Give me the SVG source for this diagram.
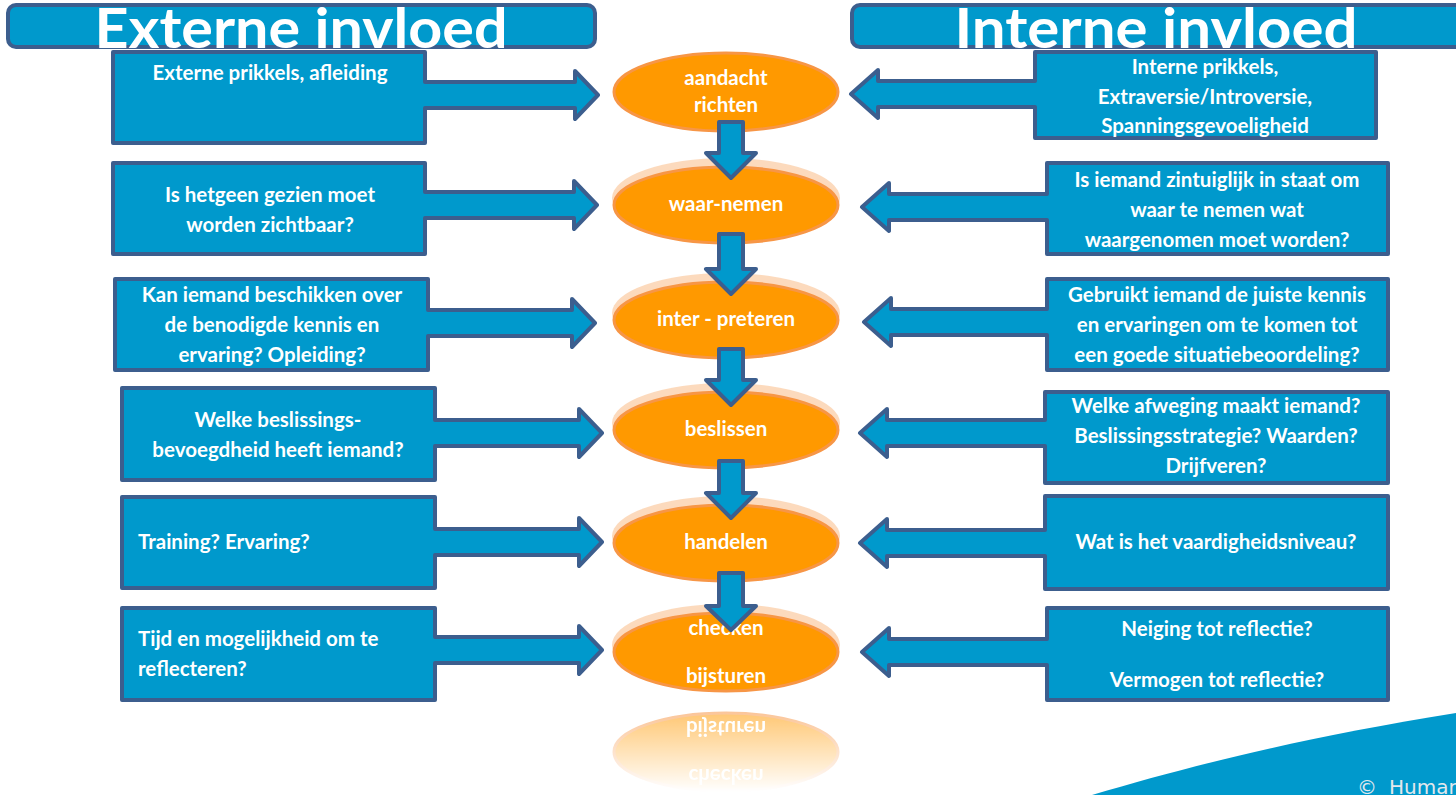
<svg xmlns="http://www.w3.org/2000/svg" width="1456" height="795" viewBox="0 0 1456 795">
<style>
.box{fill:#0099cc;stroke:#3c5e8e;stroke-width:4;stroke-linejoin:round}
.hdr{fill:#0099cc;stroke:#3c5e8e;stroke-width:4}
.ell{fill:#ff9900;stroke:#f79646;stroke-width:3}
.glow{fill:#fbd1ac;opacity:0.8}
.t{font-family:Lato,"Open Sans","Liberation Sans",sans-serif;font-weight:700;font-size:20.5px;fill:#ffffff}
.c{text-anchor:middle}
.hd{font-size:56px}
.arr{fill:#0099cc;stroke:#3c5e8e;stroke-width:4;stroke-linejoin:round}
</style>
<defs>
<linearGradient id="fg" gradientUnits="userSpaceOnUse" x1="0" y1="712" x2="0" y2="792">
<stop offset="0" stop-color="#ffffff" stop-opacity="0.55"/>
<stop offset="1" stop-color="#ffffff" stop-opacity="0"/>
</linearGradient>
<mask id="fade" maskUnits="userSpaceOnUse" x="590" y="700" width="280" height="95">
<rect x="590" y="700" width="280" height="95" fill="url(#fg)"/>
</mask>
</defs>
<rect width="1456" height="795" fill="#ffffff"/>

<g id="header-extern">
<rect class="hdr" x="8" y="5" width="587" height="42" rx="8"/>
<text class="t c hd" x="301" y="48" textLength="413" lengthAdjust="spacingAndGlyphs">Externe invloed</text>
</g>
<g id="header-intern">
<rect class="hdr" x="852" y="5" width="620" height="42" rx="8"/>
<text class="t c hd" x="1156" y="48" textLength="403" lengthAdjust="spacingAndGlyphs">Interne invloed</text>
</g>

<g id="swoosh">
<path d="M1092,795 C1190,766 1300,738 1456,713 L1456,795 Z" fill="#0099cc"/>
<text x="1357" y="794" font-family="'DejaVu Sans',sans-serif" font-size="20" fill="#e3e8ec">©<tspan x="1389">Human</tspan></text>
</g>

<g id="ext1">
<path class="box" d="M113,52 H425 V82 H575 V71 L598,95 L575,119 V108 H425 V143 H113 Z"/>
<text class="t c" x="270" y="80">Externe prikkels, afleiding</text>
</g>
<g id="ext2">
<path class="box" d="M113,163 H425 V192 H574 V181 L597,205 L574,229 V218 H425 V254 H113 Z"/>
<text class="t c" x="270" y="202">Is hetgeen gezien moet</text>
<text class="t c" x="270" y="232">worden zichtbaar?</text>
</g>
<g id="ext3">
<path class="box" d="M115,279 H428 V310 H572 V299 L595,323 L572,347 V336 H428 V370 H115 Z"/>
<text class="t c" x="272" y="302">Kan iemand beschikken over</text>
<text class="t c" x="272" y="332">de benodigde kennis en</text>
<text class="t c" x="272" y="362">ervaring? Opleiding?</text>
</g>
<g id="ext4">
<path class="box" d="M122,388 H435 V420 H579 V409 L602,433 L579,457 V446 H435 V480 H122 Z"/>
<text class="t c" x="278" y="427">Welke beslissings-</text>
<text class="t c" x="278" y="457">bevoegdheid heeft iemand?</text>
</g>
<g id="ext5">
<path class="box" d="M122,497 H435 V529 H579 V518 L602,542 L579,566 V555 H435 V588 H122 Z"/>
<text class="t" x="138" y="549">Training? Ervaring?</text>
</g>
<g id="ext6">
<path class="box" d="M122,608 H435 V637 H579 V626 L602,650 L579,674 V663 H435 V700 H122 Z"/>
<text class="t" x="138" y="646">Tijd en mogelijkheid om te</text>
<text class="t" x="138" y="676">reflecteren?</text>
</g>

<g id="int1">
<path class="box" d="M1376,52 H1035 V81 H878 V70 L851,94 L878,118 V107 H1035 V138 H1376 Z"/>
<text class="t c" x="1205" y="74">Interne prikkels,</text>
<text class="t c" x="1205" y="104">Extraversie/Introversie,</text>
<text class="t c" x="1205" y="133">Spanningsgevoeligheid</text>
</g>
<g id="int2">
<path class="box" d="M1388,163 H1047 V194 H889 V183 L862,207 L889,231 V220 H1047 V254 H1388 Z"/>
<text class="t c" x="1217" y="187">Is iemand zintuiglijk in staat om</text>
<text class="t c" x="1217" y="217">waar te nemen wat</text>
<text class="t c" x="1217" y="247">waargenomen moet worden?</text>
</g>
<g id="int3">
<path class="box" d="M1388,279 H1047 V309 H891 V298 L864,322 L891,346 V335 H1047 V370 H1388 Z"/>
<text class="t c" x="1217" y="302">Gebruikt iemand de juiste kennis</text>
<text class="t c" x="1217" y="332">en ervaringen om te komen tot</text>
<text class="t c" x="1217" y="362">een goede situatiebeoordeling?</text>
</g>
<g id="int4">
<path class="box" d="M1388,392 H1045 V420 H887 V409 L860,433 L887,457 V446 H1045 V483 H1388 Z"/>
<text class="t c" x="1216" y="413">Welke afweging maakt iemand?</text>
<text class="t c" x="1216" y="443">Beslissingsstrategie? Waarden?</text>
<text class="t c" x="1216" y="473">Drijfveren?</text>
</g>
<g id="int5">
<path class="box" d="M1388,496 H1045 V530 H887 V519 L860,543 L887,567 V556 H1045 V589 H1388 Z"/>
<text class="t c" x="1216" y="549">Wat is het vaardigheidsniveau?</text>
</g>
<g id="int6">
<path class="box" d="M1388,608 H1047 V639 H889 V628 L862,652 L889,676 V665 H1047 V700 H1388 Z"/>
<text class="t c" x="1217" y="636">Neiging tot reflectie?</text>
<text class="t c" x="1217" y="687">Vermogen tot reflectie?</text>
</g>

<g id="step1">
<ellipse class="ell" cx="726" cy="92" rx="112" ry="39"/>
<text class="t c" x="726" y="85">aandacht</text>
<text class="t c" x="726" y="112">richten</text>
</g>
<g id="step2">
<ellipse class="glow" cx="726" cy="198" rx="114" ry="40"/>
<ellipse class="ell" cx="726" cy="205" rx="112" ry="38"/>
<text class="t c" x="726" y="211">waar-nemen</text>
</g>
<g id="step3">
<ellipse class="glow" cx="726" cy="313" rx="114" ry="40"/>
<ellipse class="ell" cx="726" cy="320" rx="112" ry="38"/>
<text class="t c" x="726" y="326">inter - preteren</text>
</g>
<g id="step4">
<ellipse class="glow" cx="726" cy="423" rx="114" ry="40"/>
<ellipse class="ell" cx="726" cy="430" rx="112" ry="38"/>
<text class="t c" x="726" y="436">beslissen</text>
</g>
<g id="step5">
<ellipse class="glow" cx="726" cy="536" rx="114" ry="40"/>
<ellipse class="ell" cx="726" cy="543" rx="112" ry="38"/>
<text class="t c" x="726" y="549">handelen</text>
</g>
<g id="step6">
<ellipse class="glow" cx="726" cy="645" rx="114" ry="41"/>
<ellipse class="ell" cx="726" cy="652" rx="112" ry="39"/>
<text class="t c" x="726" y="635">checken</text>
<text class="t c" x="726" y="683">bijsturen</text>
</g>
<g id="step6-reflection" mask="url(#fade)">
<g transform="matrix(1 0 0 -1 0 1404)">
<ellipse class="ell" cx="726" cy="652" rx="112" ry="39"/>
<text class="t c" x="726" y="635">checken</text>
<text class="t c" x="726" y="683">bijsturen</text>
</g>
</g>

<g id="connectors">
<path class="arr" d="M719,122 H743 V153 H756 L731,178 L706,153 H719 Z"/>
<path class="arr" d="M719,234 H743 V269 H756 L731,294 L706,269 H719 Z"/>
<path class="arr" d="M719,349 H743 V380 H756 L731,405 L706,380 H719 Z"/>
<path class="arr" d="M719,461 H743 V493 H756 L731,518 L706,493 H719 Z"/>
<path class="arr" d="M719,573 H743 V606 H756 L731,630 L706,606 H719 Z"/>
</g>
</svg>
